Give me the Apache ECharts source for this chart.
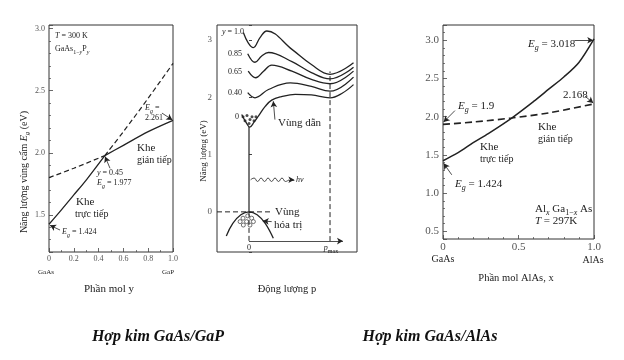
<!DOCTYPE html>
<html><head><meta charset="utf-8">
<script src="https://cdn.jsdelivr.net/npm/echarts@6/dist/echarts.min.js"></script>
<style>html,body{margin:0;padding:0;background:#fff}#c{width:624px;height:360px}</style>
</head><body><div id="c"></div><script>
// ===== Panel 1: GaAs(1-y)P(y), band gap vs mole fraction y =====
const p1DirectSolidX = [0, 0.1, 0.2, 0.3, 0.45];
const p1DirectSolidE = [1.424, 1.54, 1.66, 1.78, 1.977];
const p1DirectDashX = [0.45, 0.6, 0.8, 1.0];
const p1DirectDashE = [1.977, 2.17, 2.44, 2.72];
const p1IndirectDashX = [0, 0.2, 0.45];
const p1IndirectDashE = [1.80, 1.875, 1.977];
const p1IndirectSolidX = [0.45, 0.6, 0.8, 1.0];
const p1IndirectSolidE = [1.977, 2.06, 2.17, 2.261];

// ===== Panel 2: E(p) conduction band curves for several y =====
const p2Curve10X = [-0.07, -0.01, 0.053, 0.136, 0.22, 0.53, 0.77, 1.0, 1.29];
const p2Curve10E = [3.13, 2.95, 2.865, 3.04, 3.155, 2.835, 2.57, 2.40, 2.60];
const p2Curve085X = [-0.016, 0.074, 0.157, 0.24, 0.53, 0.77, 1.0, 1.29];
const p2Curve085E = [2.76, 2.61, 2.72, 2.78, 2.62, 2.43, 2.32, 2.525];
const p2Curve065X = [-0.01, 0.083, 0.18, 0.28, 0.53, 0.77, 1.0, 1.29];
const p2Curve065E = [2.455, 2.34, 2.455, 2.56, 2.455, 2.31, 2.235, 2.455];
const p2Curve040X = [-0.016, 0.074, 0.24, 0.51, 0.77, 1.0, 1.29];
const p2Curve040E = [2.08, 1.99, 2.135, 2.25, 2.19, 2.105, 2.35];
const p2Curve0X = [-0.09, -0.04, 0.01, 0.06, 0.12, 0.2, 0.28, 0.4, 0.57, 0.77, 1.0, 1.15, 1.29];
const p2Curve0E = [1.70, 1.57, 1.48, 1.56, 1.68, 1.84, 1.95, 2.01, 2.05, 2.04, 1.99, 2.07, 2.22];
const p2ValenceX = [-0.28, -0.2, -0.1, 0, 0.1, 0.2, 0.3];
const p2ValenceE = [-0.42, -0.2, -0.05, 0, -0.05, -0.2, -0.46];
const p2ElectronX = [-0.074, -0.025, 0.037, 0.086, -0.049, 0.012, 0.062, 0.0];
const p2ElectronE = [1.66, 1.68, 1.66, 1.66, 1.59, 1.61, 1.59, 1.54];
const p2HoleX = [-0.016, -0.074, 0.033, -0.11, -0.03, 0.054, -0.07, 0.012];
const p2HoleE = [-0.07, -0.11, -0.11, -0.17, -0.17, -0.17, -0.23, -0.23];
const p2PhotonX = [0.02, 0.063, 0.106, 0.149, 0.192, 0.235, 0.278, 0.321, 0.364, 0.407, 0.45, 0.493];
const p2PhotonE = [0.56, 0.59, 0.53, 0.59, 0.53, 0.59, 0.53, 0.59, 0.53, 0.59, 0.53, 0.56];
const p2Pmax = 1.0;
const p2Gap0 = 1.48;

// ===== Panel 3: Al(x)Ga(1-x)As band gap vs x =====
const p3DirectX = [0, 0.1, 0.2, 0.3, 0.455, 0.6, 0.7, 0.8, 0.9, 1.0];
const p3DirectE = [1.424, 1.53, 1.66, 1.78, 1.983, 2.20, 2.36, 2.52, 2.71, 3.018];
const p3IndirectX = [0, 0.2, 0.455, 0.7, 1.0];
const p3IndirectE = [1.9, 1.93, 1.983, 2.05, 2.168];

const zip = (a, b) => a.map((v, i) => [v, b[i]]);
const SERIF = "'Liberation Serif','DejaVu Serif',serif";
const INK = '#222';
const LBL = '#555';

const chart = echarts.init(document.getElementById('c'), null, {renderer: 'canvas'});

function lineS(g, data, dashed, width, extra) {
  return Object.assign({
    type: 'line', xAxisIndex: g, yAxisIndex: g, data: data, showSymbol: false, symbol: 'none',
    silent: true, animation: false,
    lineStyle: {color: INK, width: width || 1.3, type: dashed ? [5, 3] : 'solid'}
  }, extra || {});
}
function arrows(g, list) {
  return {
    type: 'line', xAxisIndex: g, yAxisIndex: g, data: [], silent: true, animation: false,
    markLine: {
      silent: true, animation: false, symbol: ['none', 'arrow'], symbolSize: [5, 6],
      label: {show: false}, lineStyle: {color: INK, width: 0.8, type: 'solid'},
      data: list.map(a => [{coord: a[0]}, {coord: a[1]}])
    }
  };
}
const half = v => Math.abs(v * 2 - Math.round(v * 2)) < 1e-6;

const tickBase = {show: true, inside: true, length: 4, lineStyle: {color: '#444', width: 0.8}};
const minorBase = (n) => ({show: true, splitNumber: n, length: 2, lineStyle: {color: '#444', width: 0.7}});

const option = {
  backgroundColor: '#fff',
  animation: false,
  grid: [
    {left: 49, top: 25, width: 124, height: 227, show: true, borderColor: '#333', borderWidth: 1},
    {left: 217, top: 25, width: 140, height: 227, show: true, borderColor: '#333', borderWidth: 1},
    {left: 443, top: 25, width: 151, height: 214, show: true, borderColor: '#333', borderWidth: 1}
  ],
  xAxis: [
    {gridIndex: 0, type: 'value', min: 0, max: 1, splitNumber: 5, axisLine: {show: false},
     splitLine: {show: false}, axisTick: tickBase, minorTick: minorBase(2),
     axisLabel: {fontFamily: SERIF, fontSize: 8, color: LBL, margin: 3,
       formatter: v => v === 0 ? '0' : v.toFixed(1)}},
    {gridIndex: 1, type: 'value', min: -0.395, max: 1.333, axisLine: {show: false},
     splitLine: {show: false}, axisTick: {show: false}, axisLabel: {show: false}},
    {gridIndex: 2, type: 'value', min: 0, max: 1, splitNumber: 2, axisLine: {show: false},
     splitLine: {show: false}, axisTick: tickBase, minorTick: minorBase(5),
     axisLabel: {fontFamily: SERIF, fontSize: 11, color: LBL, margin: 3,
       formatter: v => v === 0 ? '0' : v.toFixed(1)}}
  ],
  yAxis: [
    {gridIndex: 0, type: 'value', min: 1.2, max: 3.03, splitNumber: 4, axisLine: {show: false},
     splitLine: {show: false}, axisTick: tickBase, minorTick: minorBase(5),
     axisLabel: {fontFamily: SERIF, fontSize: 8, color: LBL, margin: 4,
       formatter: v => half(v) ? v.toFixed(1) : ''}},
    {gridIndex: 1, type: 'value', min: -0.7, max: 3.26, splitNumber: 4, axisLine: {show: false},
     splitLine: {show: false}, axisTick: {show: true, inside: true, length: 3, lineStyle: {color: '#444'}},
     axisLabel: {fontFamily: SERIF, fontSize: 9, color: LBL, margin: 5,
       formatter: v => Math.abs(v - Math.round(v)) < 1e-6 ? String(Math.round(v)) : ''}},
    {gridIndex: 2, type: 'value', min: 0.4, max: 3.2, splitNumber: 5, axisLine: {show: false},
     splitLine: {show: false}, axisTick: tickBase, minorTick: minorBase(5),
     axisLabel: {fontFamily: SERIF, fontSize: 11, color: LBL, margin: 4,
       formatter: v => half(v) ? v.toFixed(1) : ''}}
  ],
  series: [
    // panel 1
    lineS(0, zip(p1DirectSolidX, p1DirectSolidE), false, 1.3, {smooth: 0.3}),
    lineS(0, zip(p1DirectDashX, p1DirectDashE), true, 1.2, {smooth: 0.3}),
    lineS(0, zip(p1IndirectDashX, p1IndirectDashE), true, 1.2, {smooth: 0.3}),
    lineS(0, zip(p1IndirectSolidX, p1IndirectSolidE), false, 1.3, {smooth: 0.3}),
    arrows(0, [
      [[0.911, 2.32], [0.995, 2.265]],
      [[0.492, 1.875], [0.452, 1.97]],
      [[0.089, 1.377], [0.008, 1.415]]
    ]),
    // panel 2
    lineS(1, zip(p2Curve10X, p2Curve10E), false, 1.3, {smooth: 0.4}),
    lineS(1, zip(p2Curve085X, p2Curve085E), false, 1.3, {smooth: 0.4}),
    lineS(1, zip(p2Curve065X, p2Curve065E), false, 1.3, {smooth: 0.4}),
    lineS(1, zip(p2Curve040X, p2Curve040E), false, 1.3, {smooth: 0.4}),
    lineS(1, zip(p2Curve0X, p2Curve0E), false, 1.3, {smooth: 0.4}),
    lineS(1, zip(p2ValenceX, p2ValenceE), false, 1.3, {smooth: 0.4}),
    lineS(1, [[0, 0], [0, p2Gap0]], false, 1.2),
    lineS(1, [[-0.395, 0], [0.26, 0]], true, 1.0),
    lineS(1, [[0, 0], [0, -0.51]], true, 1.0),
    lineS(1, [[p2Pmax, -0.51], [p2Pmax, 2.45]], true, 1.0),
    lineS(1, zip(p2PhotonX, p2PhotonE), false, 0.8, {smooth: 0.5}),
    {type: 'scatter', xAxisIndex: 1, yAxisIndex: 1, data: zip(p2ElectronX, p2ElectronE), symbol: 'circle',
     symbolSize: 3, itemStyle: {color: INK}, silent: true, animation: false},
    {type: 'scatter', xAxisIndex: 1, yAxisIndex: 1, data: zip(p2HoleX, p2HoleE), symbol: 'circle',
     symbolSize: 4, itemStyle: {color: '#fff', borderColor: INK, borderWidth: 0.8}, silent: true, animation: false},
    arrows(1, [
      [[0, -0.51], [1.16, -0.51]],
      [[0.49, 0.56], [0.56, 0.56]],
      [[0.32, 1.61], [0.30, 1.93]],
      [[0.28, -0.17], [0.17, -0.16]]
    ]),
    // panel 3
    lineS(2, zip(p3DirectX, p3DirectE), false, 1.5, {smooth: 0.3}),
    lineS(2, zip(p3IndirectX, p3IndirectE), false, 1.6, {smooth: 0.3, lineStyle: {color: INK, width: 1.6, type: [7, 4]}}),
    arrows(2, [
      [[0.87, 3.0], [0.995, 3.0]],
      [[0.94, 2.27], [0.995, 2.18]],
      [[0.079, 2.08], [0.004, 1.93]],
      [[0.058, 1.24], [0.004, 1.39]]
    ])
  ]
};

// text helpers
const R = (sz) => ({
  n: {fontSize: sz, fontFamily: SERIF, fill: INK, lineHeight: sz + 4},
  i: {fontSize: sz, fontFamily: SERIF, fontStyle: 'italic', fill: INK, lineHeight: sz + 4},
  s: {fontSize: Math.round(sz * 0.7), fontFamily: SERIF, fill: INK, verticalAlign: 'bottom', lineHeight: Math.round(sz * 0.7)},
  si: {fontSize: Math.round(sz * 0.7), fontFamily: SERIF, fontStyle: 'italic', fill: INK, verticalAlign: 'bottom', lineHeight: Math.round(sz * 0.7)}
});
function T(x, y, text, sz, align, extra) {
  return Object.assign({
    type: 'text', x: x, y: y, silent: true,
    style: {text: text, rich: R(sz), fontSize: sz, fontFamily: SERIF, fill: INK,
      align: align || 'left', verticalAlign: 'middle'}
  }, extra || {});
}

option.graphic = [
  // panel 1
  T(55, 36, '{i|T}{n| = 300 K}', 8),
  T(55, 49, '{n|GaAs}{s|1−}{si|y}{n|P}{si|y}', 8),
  T(145, 108, '{i|E}{si|g}{n| =}', 8),
  T(145, 118, '{n|2.261}', 8),
  T(137, 148, '{n|Khe}', 11),
  T(137, 160, '{n|gián tiếp}', 10),
  T(97, 173, '{i|y}{n| = 0.45}', 8),
  T(97, 183, '{i|E}{si|g}{n| = 1.977}', 8),
  T(76, 202, '{n|Khe}', 11),
  T(75, 214, '{n|trực tiếp}', 10),
  T(62, 232, '{i|E}{si|g}{n| = 1.424}', 8),
  T(46, 272, '{n|GaAs}', 7, 'center'),
  T(168, 272, '{n|GaP}', 7, 'center'),
  T(109, 289, '{n|Phần mol y}', 11, 'center'),
  T(24, 172, '{n|Năng lượng vùng cấm }{i|E}{si|g}{n| (eV)}', 10, 'center', {rotation: Math.PI / 2}),
  // panel 2
  T(222, 32, '{i|y}{n| = 1.0}', 8),
  T(228, 54, '{n|0.85}', 8),
  T(228, 72, '{n|0.65}', 8),
  T(228, 93, '{n|0.40}', 8),
  T(235, 117, '{n|0}', 8),
  T(278, 123, '{n|Vùng dẫn}', 11),
  T(296, 180, '{i|hν}', 8),
  T(275, 212, '{n|Vùng}', 11),
  T(274, 225, '{n|hóa trị}', 11),
  T(249, 248, '{n|0}', 8, 'center'),
  T(331, 248, '{i|p}{s|max}', 8, 'center'),
  T(287, 289, '{n|Động lượng p}', 10.5, 'center'),
  T(204, 151, '{n|Năng lượng (eV)}', 9, 'center', {rotation: Math.PI / 2}),
  // panel 3
  T(528, 44, '{i|E}{si|g}{n| = 3.018}', 11),
  T(563, 95, '{n|2.168}', 11),
  T(458, 106, '{i|E}{si|g}{n| = 1.9}', 11),
  T(538, 127, '{n|Khe}', 11),
  T(538, 139, '{n|gián tiếp}', 10),
  T(480, 147, '{n|Khe}', 11),
  T(480, 159, '{n|trực tiếp}', 10),
  T(455, 184, '{i|E}{si|g}{n| = 1.424}', 11),
  T(535, 209, '{n|Al}{si|x}{n| Ga}{s|1−}{si|x}{n| As}', 11),
  T(535, 221, '{i|T}{n| = 297K}', 11),
  T(443, 259, '{n|GaAs}', 10, 'center'),
  T(593, 260, '{n|AlAs}', 10, 'center'),
  T(516, 278, '{n|Phần mol AlAs, x}', 10.5, 'center'),
  // captions
  {type: 'text', x: 158, y: 337, silent: true, style: {text: 'Hợp kim GaAs/GaP', fontSize: 16,
    fontFamily: SERIF, fontWeight: 'bold', fontStyle: 'italic', fill: '#111', align: 'center', verticalAlign: 'middle'}},
  {type: 'text', x: 430, y: 337, silent: true, style: {text: 'Hợp kim GaAs/AlAs', fontSize: 16,
    fontFamily: SERIF, fontWeight: 'bold', fontStyle: 'italic', fill: '#111', align: 'center', verticalAlign: 'middle'}}
];

chart.setOption(option);
</script></body></html>
